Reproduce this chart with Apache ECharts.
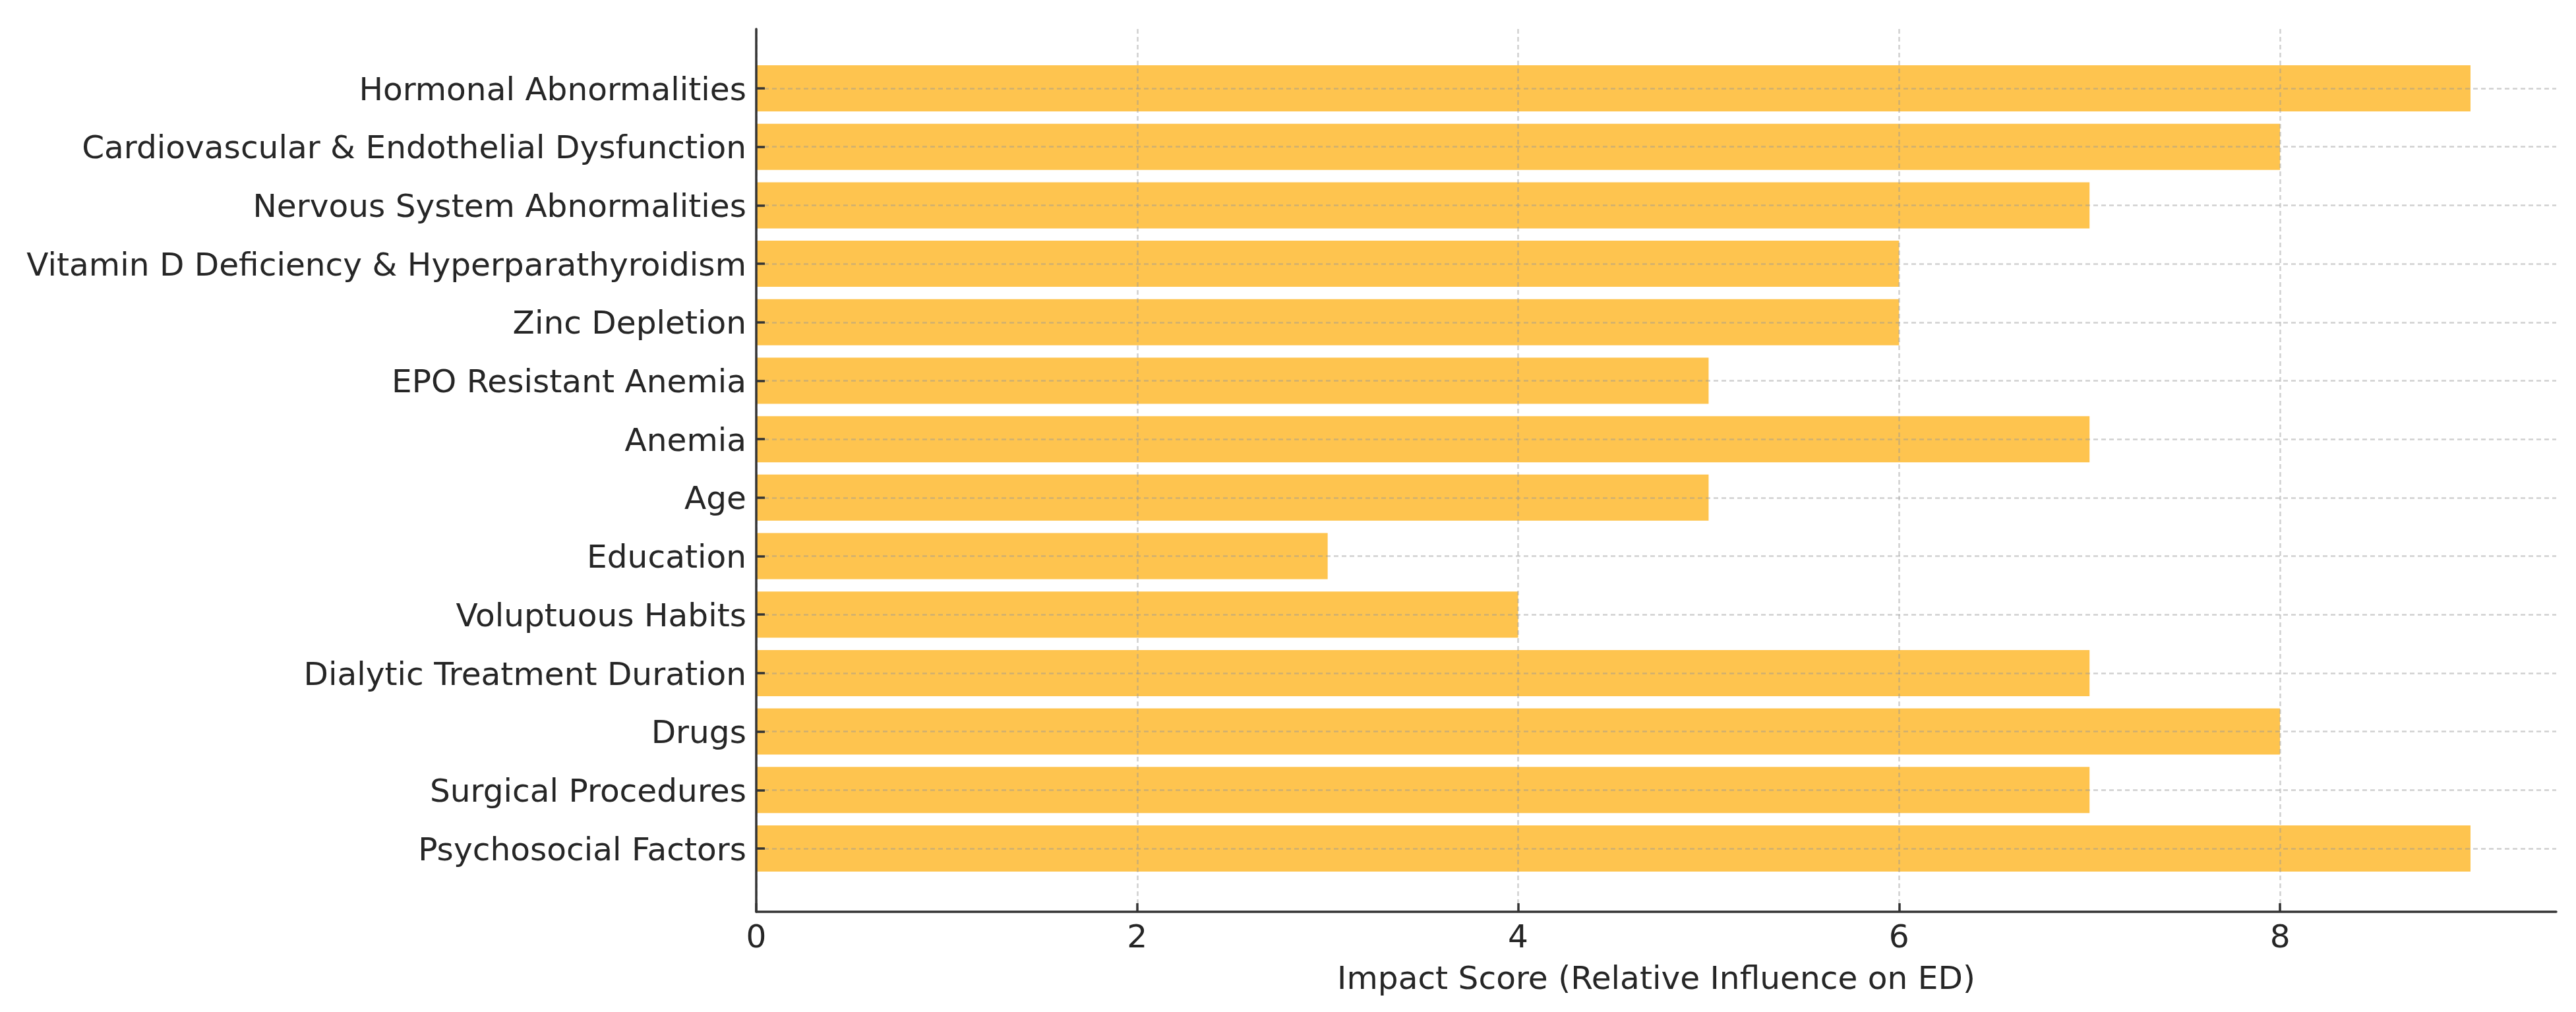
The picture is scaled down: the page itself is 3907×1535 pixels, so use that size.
<!DOCTYPE html>
<html>
<head>
<meta charset="utf-8">
<script src="https://cdn.jsdelivr.net/npm/echarts@6/dist/echarts.min.js"></script>
<style>
html,body{margin:0;padding:0;background:#fff;}
#chart{width:3907px;height:1535px;}
</style>
</head>
<body>
<div id="chart"></div>
<script>
const categories = [
  'Hormonal Abnormalities',
  'Cardiovascular & Endothelial Dysfunction',
  'Nervous System Abnormalities',
  'Vitamin D Deficiency & Hyperparathyroidism',
  'Zinc Depletion',
  'EPO Resistant Anemia',
  'Anemia',
  'Age',
  'Education',
  'Voluptuous Habits',
  'Dialytic Treatment Duration',
  'Drugs',
  'Surgical Procedures',
  'Psychosocial Factors'
];
const impactScores = [9, 8, 7, 6, 6, 5, 7, 5, 3, 4, 7, 8, 7, 9];
const xTickValues = [0, 2, 4, 6, 8];
const xAxisTitle = 'Impact Score (Relative Influence on ED)';

const FONT = 'DejaVu Sans';
const FS = 48.6;
const TXT = '#262626';
const AX = '#333333';
const GRID = 'rgba(150,150,150,0.45)';
const XMAX = 9.45;

const chart = echarts.init(document.getElementById('chart'), null, {renderer: 'canvas'});
chart.setOption({
  backgroundColor: '#ffffff',
  animation: false,
  textStyle: {fontFamily: FONT},
  grid: [
    {left: 1147, right: 30, top: 44, bottom: 152, containLabel: false},
    {left: 1147, right: 30, top: 134, bottom: 248, containLabel: false}
  ],
  xAxis: [
    {
      gridIndex: 0, type: 'value', min: 0, max: XMAX, interval: 2, z: 5,
      axisLine: {show: true, lineStyle: {color: AX, width: 3.5}},
      axisTick: {show: true, inside: true, length: 13, customValues: xTickValues,
                 lineStyle: {color: AX, width: 3.5}},
      axisLabel: {show: true, customValues: xTickValues, margin: 17, fontSize: FS,
                  color: TXT, fontFamily: FONT},
      splitLine: {show: true, lineStyle: {color: GRID, width: 2.5, type: [7, 5]}},
      name: xAxisTitle, nameLocation: 'middle', nameGap: 80,
      nameTextStyle: {fontSize: FS, color: TXT, fontFamily: FONT}
    },
    {
      gridIndex: 1, type: 'value', min: 0, max: XMAX, show: false,
      splitLine: {show: false}
    }
  ],
  yAxis: [
    {
      gridIndex: 0, type: 'value', min: 0, max: 1, z: 5,
      axisLine: {show: true, lineStyle: {color: AX, width: 3.5}},
      axisTick: {show: false}, axisLabel: {show: false}, splitLine: {show: false}
    },
    {
      gridIndex: 1, type: 'category', data: categories, inverse: true,
      boundaryGap: false, z: 5,
      axisLine: {show: false},
      axisTick: {show: true, inside: true, length: 13, alignWithLabel: true,
                 lineStyle: {color: AX, width: 3.5}},
      axisLabel: {show: true, margin: 15, interval: 0,
                  formatter: function (v) { return '{c|' + v + '}'; },
                  rich: {c: {fontSize: FS, color: TXT, fontFamily: FONT,
                             padding: [10, 0, 0, 0]}}},
      splitLine: {show: true, interval: 0,
                  lineStyle: {color: GRID, width: 2.5, type: [7, 5]}}
    }
  ],
  series: [
    {
      type: 'bar',
      xAxisIndex: 1, yAxisIndex: 1,
      data: impactScores,
      barWidth: 70,
      itemStyle: {color: '#FEC44F'},
      z: 2
    }
  ]
});
</script>
</body>
</html>
